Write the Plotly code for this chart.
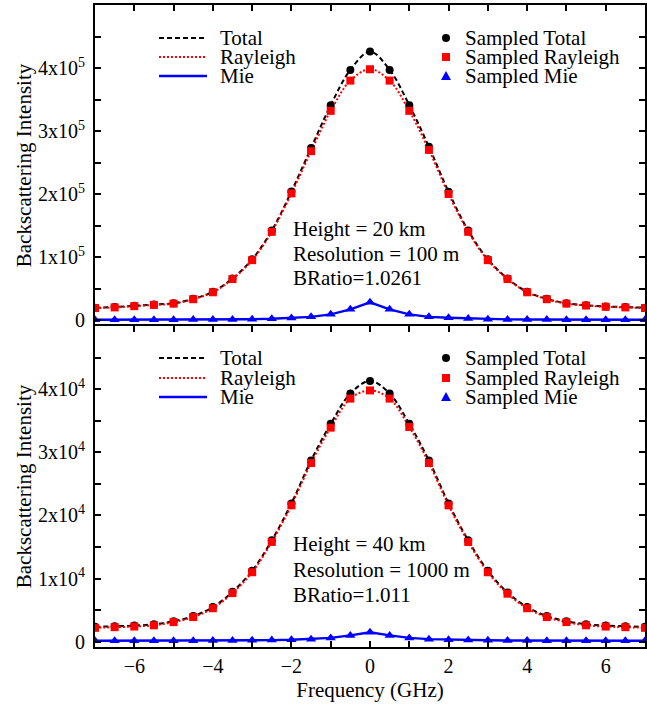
import plotly.graph_objects as go
from plotly.subplots import make_subplots

# ---------------- data ----------------
freq = [-7, -6.5, -6, -5.5, -5, -4.5, -4, -3.5, -3, -2.5, -2, -1.5, -1, -0.5, 0,
        0.5, 1, 1.5, 2, 2.5, 3, 3.5, 4, 4.5, 5, 5.5, 6, 6.5, 7]

# Height = 20 km, resolution 100 m
total_20 = [19500, 20500, 22500, 24500, 26600, 33700, 44800, 66000, 96300, 142000,
            204000, 273000, 341000, 397000, 426000, 397000, 341000, 275000, 203500,
            142000, 96300, 66000, 44800, 33700, 26600, 23500, 21500, 20500, 19500]
rayleigh_20 = [19000, 20000, 22000, 24000, 26000, 33000, 44000, 65000, 95000, 140000,
               201000, 268000, 332000, 380000, 398000, 380000, 332000, 270000, 200000,
               140000, 95000, 65000, 44000, 33000, 26000, 23000, 21000, 20000, 19000]
mie_20 = [500, 500, 500, 500, 600, 700, 800, 1000, 1300, 2000, 3000, 5000, 9000, 17000,
          28000, 17000, 9000, 5000, 3500, 2500, 1300, 1000, 800, 700, 600, 500, 500, 500, 500]

# Height = 40 km, resolution 1000 m
total_40 = [2350, 2450, 2550, 2750, 3250, 4060, 5480, 7900, 11220, 16050, 21900,
            28700, 34500, 39300, 41300, 39300, 34500, 28700, 21900, 16050, 11220,
            7800, 5480, 4060, 3250, 2750, 2550, 2450, 2350]
rayleigh_40 = [2200, 2300, 2400, 2600, 3100, 3900, 5300, 7700, 11000, 15800, 21600,
               28300, 33900, 38500, 39800, 38500, 34000, 28300, 21600, 15800, 11000,
               7600, 5300, 3900, 3100, 2600, 2400, 2300, 2200]
mie_40 = [150, 150, 150, 150, 150, 160, 180, 200, 220, 250, 300, 400, 600, 1000, 1500,
          1000, 600, 400, 300, 250, 220, 200, 180, 160, 150, 150, 150, 150, 150]

x_ticks = [-6, -4, -2, 0, 2, 4, 6]
y_ticks_20 = [0, 100000, 200000, 300000, 400000]
y_text_20 = ["0", "1x10<sup>5</sup>", "2x10<sup>5</sup>", "3x10<sup>5</sup>", "4x10<sup>5</sup>"]
y_ticks_40 = [0, 10000, 20000, 30000, 40000]
y_text_40 = ["0", "1x10<sup>4</sup>", "2x10<sup>4</sup>", "3x10<sup>4</sup>", "4x10<sup>4</sup>"]

line_names = ["Total", "Rayleigh", "Mie"]
marker_names = ["Sampled Total", "Sampled Rayleigh", "Sampled Mie"]
info_20 = ["Height = 20 km", "Resolution = 100 m", "BRatio=1.0261"]
info_40 = ["Height = 40 km", "Resolution = 1000 m", "BRatio=1.011"]

# ---------------- figure ----------------
FONT = "Liberation Serif"
W, H = 647, 709
ML, MR, MT, MB = 95, 2, 5, 62

fig = make_subplots(rows=2, cols=1, shared_xaxes=True, vertical_spacing=0)

BLACK, RED, BLUE = "#000000", "#ff0000", "#0000ff"

panels = [(1, total_20, rayleigh_20, mie_20), (2, total_40, rayleigh_40, mie_40)]
for row, tot, ray, mie in panels:
    fig.add_trace(go.Scatter(x=freq, y=tot, mode="lines", name=line_names[0],
                             line=dict(color=BLACK, width=2, dash="5px,3px", shape="spline"),
                             showlegend=False), row=row, col=1)
    fig.add_trace(go.Scatter(x=freq, y=ray, mode="lines", name=line_names[1],
                             line=dict(color=RED, width=2, dash="2px,2px", shape="spline"),
                             showlegend=False), row=row, col=1)
    fig.add_trace(go.Scatter(x=freq, y=mie, mode="lines", name=line_names[2],
                             line=dict(color=BLUE, width=2.4),
                             showlegend=False), row=row, col=1)
    fig.add_trace(go.Scatter(x=freq, y=tot, mode="markers", name=marker_names[0],
                             marker=dict(color=BLACK, size=8, symbol="circle"),
                             showlegend=False), row=row, col=1)
    fig.add_trace(go.Scatter(x=freq, y=ray, mode="markers", name=marker_names[1],
                             marker=dict(color=RED, size=8, symbol="square"),
                             showlegend=False), row=row, col=1)
    fig.add_trace(go.Scatter(x=freq, y=mie, mode="markers", name=marker_names[2],
                             marker=dict(color=BLUE, size=9, symbol="triangle-up"),
                             showlegend=False), row=row, col=1)

axis_common = dict(showline=True, linewidth=2, linecolor=BLACK,
                   ticks="inside", ticklen=6, tickwidth=1.5, tickcolor=BLACK,
                   showgrid=False, zeroline=False, automargin=False,
                   tickfont=dict(family=FONT, size=20, color=BLACK))
minor_x = dict(dtick=1, tick0=0, ticks="inside", ticklen=6, tickwidth=1.5, tickcolor=BLACK)

# top panel: only its top border (the shared middle border comes from the lower panel)
fig.update_xaxes(range=[-7, 7], tickvals=x_ticks, minor=minor_x, side="top", mirror=False,
                 showticklabels=False, row=1, col=1, **axis_common)
fig.update_xaxes(range=[-7, 7], tickvals=x_ticks, minor=minor_x, mirror="ticks",
                 showticklabels=True, row=2, col=1,
                 title=dict(text="Frequency (GHz)", font=dict(family=FONT, size=21, color=BLACK),
                            standoff=6), **axis_common)

ytitle = dict(text="Backscattering Intensity", font=dict(family=FONT, size=21, color=BLACK),
              standoff=1)
fig.update_yaxes(range=[-9500, 500000], tickvals=y_ticks_20, ticktext=y_text_20,
                 minor=dict(dtick=50000, tick0=0, ticks="inside", ticklen=6,
                            tickwidth=1.5, tickcolor=BLACK),
                 title=ytitle, ticklabelstandoff=4, mirror="ticks", row=1, col=1, **axis_common)
fig.update_yaxes(range=[-840, 50000], tickvals=y_ticks_40, ticktext=y_text_40,
                 minor=dict(dtick=5000, tick0=0, ticks="inside", ticklen=6,
                            tickwidth=1.5, tickcolor=BLACK),
                 title=ytitle, ticklabelstandoff=4, mirror="ticks", row=2, col=1, **axis_common)

# ---------------- hand-made legends and notes ----------------
PW, PH = W - ML - MR, H - MT - MB


def px(x):
    return (x - ML) / PW


def py(y):
    return (H - MB - y) / PH


shapes = []
annotations = []
text_font = dict(family=FONT, size=21, color=BLACK)
layout_rows = [((38, 57, 76), info_20, (229, 254, 278)),
               ((358, 378, 397), info_40, (544, 570, 595))]
for rows_y, info, info_y in layout_rows:
    y0, y1, y2 = rows_y
    # line legend
    shapes.append(dict(type="line", xref="paper", yref="paper", x0=px(159), x1=px(207),
                       y0=py(y0), y1=py(y0), line=dict(color=BLACK, width=2, dash="5px,3px")))
    shapes.append(dict(type="line", xref="paper", yref="paper", x0=px(159), x1=px(207),
                       y0=py(y1), y1=py(y1), line=dict(color=RED, width=2, dash="2px,2px")))
    shapes.append(dict(type="line", xref="paper", yref="paper", x0=px(159), x1=px(207),
                       y0=py(y2), y1=py(y2), line=dict(color=BLUE, width=2.4)))
    for name, yy in zip(line_names, rows_y):
        annotations.append(dict(xref="paper", yref="paper", x=px(218), y=py(yy),
                                xanchor="left", yanchor="middle", text=name,
                                showarrow=False, font=text_font))
    # marker legend
    mx = 446
    shapes.append(dict(type="circle", xref="paper", yref="paper", x0=px(mx - 4), x1=px(mx + 4),
                       y0=py(y0 + 4), y1=py(y0 - 4), fillcolor=BLACK, line=dict(width=0)))
    shapes.append(dict(type="rect", xref="paper", yref="paper", x0=px(mx - 4), x1=px(mx + 4),
                       y0=py(y1 + 4), y1=py(y1 - 4), fillcolor=RED, line=dict(width=0)))
    tri = "M {:.5f},{:.5f} L {:.5f},{:.5f} L {:.5f},{:.5f} Z".format(
        px(mx), py(y2 - 5), px(mx - 5), py(y2 + 4), px(mx + 5), py(y2 + 4))
    shapes.append(dict(type="path", xref="paper", yref="paper", path=tri,
                       fillcolor=BLUE, line=dict(width=0)))
    for name, yy in zip(marker_names, rows_y):
        annotations.append(dict(xref="paper", yref="paper", x=px(463), y=py(yy),
                                xanchor="left", yanchor="middle", text=name,
                                showarrow=False, font=text_font))
    # info text
    for line, yy in zip(info, info_y):
        annotations.append(dict(xref="paper", yref="paper", x=px(291), y=py(yy),
                                xanchor="left", yanchor="middle", text=line,
                                showarrow=False, font=text_font))

fig.update_layout(width=W, height=H, margin=dict(l=ML, r=MR, t=MT, b=MB),
                  paper_bgcolor="white", plot_bgcolor="white",
                  font=dict(family=FONT, size=20, color=BLACK),
                  shapes=shapes, annotations=annotations, showlegend=False)

fig.write_html("out.html", config={"displayModeBar": False},
               post_script="document.body.style.margin='0';")
